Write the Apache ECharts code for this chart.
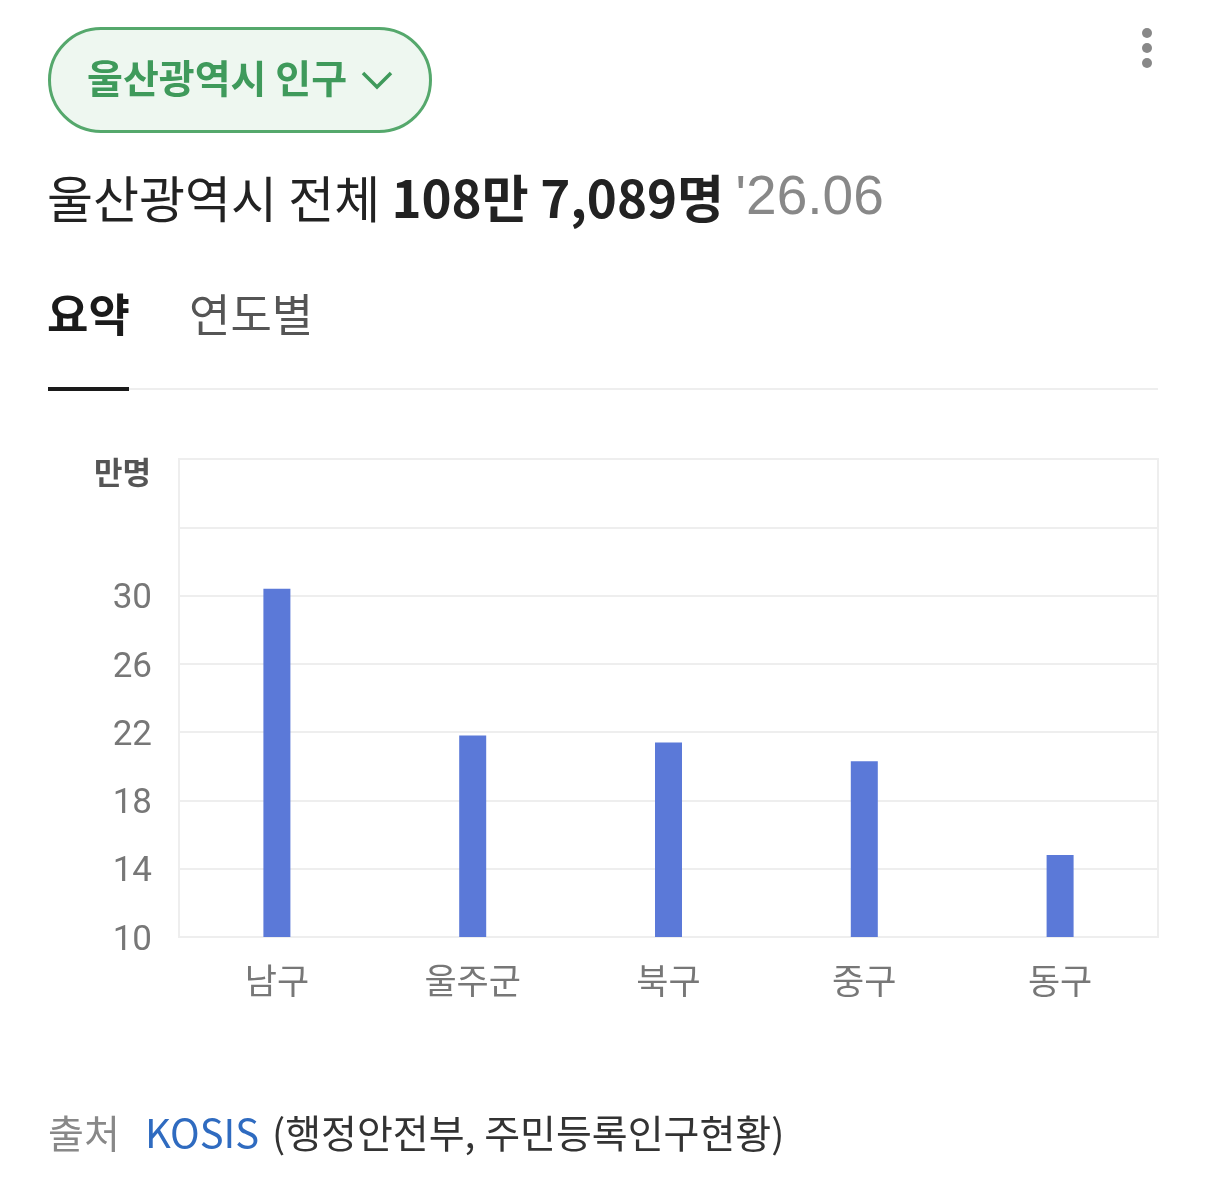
<!DOCTYPE html>
<html><head><meta charset="utf-8">
<script src="https://cdn.jsdelivr.net/npm/echarts@6/dist/echarts.min.js"></script>
<style>html,body{margin:0;padding:0;background:#fff}#c{width:1206px;height:1187px}</style>
</head><body><div id="c"></div>
<script>
const categories = ['남구', '울주군', '북구', '중구', '동구'];
const population = [30.4, 21.8, 21.4, 20.3, 14.8];
const yMin = 10, yMax = 38, yStep = 4, yLabelMax = 30;

const FONT = '"Noto Sans CJK KR", "Noto Sans", sans-serif';
const chart = echarts.init(document.getElementById('c'), null, {renderer: 'canvas'});
chart.setOption({
  backgroundColor: '#fff',
  animation: false,
  textStyle: {fontFamily: FONT},
  grid: {left: 179, right: 48, top: 459, bottom: 250, show: true, borderColor: '#eeeeee', borderWidth: 2},
  xAxis: {
    type: 'category', data: categories,
    axisLine: {show: false}, axisTick: {show: false},
    axisLabel: {color: '#777', fontSize: 35, margin: 26, fontFamily: FONT}
  },
  yAxis: {
    type: 'value', min: yMin, max: yMax, interval: yStep,
    axisLine: {show: false}, axisTick: {show: false},
    splitLine: {lineStyle: {color: '#eeeeee', width: 2}},
    axisLabel: {color: '#777', fontSize: 35, margin: 27, fontFamily: 'Roboto, "Noto Sans", sans-serif',
      formatter: v => (v <= yLabelMax ? '{v|' + v + '}' : ''),
      rich: {v: {color: '#777', fontSize: 35, fontFamily: 'Roboto, "Noto Sans", sans-serif', padding: [8, 0, 0, 0]}}}
  },
  series: [{
    type: 'bar', data: population, barWidth: 27,
    itemStyle: {color: '#5b79d8'}
  }],
  graphic: [
    {type: 'rect', shape: {x: 49.5, y: 28.5, width: 381, height: 103, r: 51.5},
     style: {fill: '#eef7f0', stroke: '#55a86c', lineWidth: 3}},
    {type: 'text', x: 87, y: 78, style: {text: '울산광역시 인구', fill: '#3f9a5b', font: 'bold 39px ' + FONT, textVerticalAlign: 'middle'}},
    {type: 'polyline', shape: {points: [[363, 73], [377, 87], [391, 73]]},
     style: {stroke: '#3f9a5b', lineWidth: 3.5, fill: null}},
    {type: 'circle', shape: {cx: 1147, cy: 33, r: 5}, style: {fill: '#888'}},
    {type: 'circle', shape: {cx: 1147, cy: 48, r: 5}, style: {fill: '#888'}},
    {type: 'circle', shape: {cx: 1147, cy: 63, r: 5}, style: {fill: '#888'}},
    {type: 'text', x: 47, y: 199, style: {
      text: '{a|울산광역시 전체 }{b|108만 7,089명 }{c|\'26.06}',
      textVerticalAlign: 'middle',
      rich: {
        a: {fill: '#222', font: '50px ' + FONT},
        b: {fill: '#222', font: 'bold 51px ' + FONT},
        c: {fill: '#888', font: '55px "Liberation Sans", Roboto, sans-serif'}
      }}},
    {type: 'text', x: 47, y: 315, style: {text: '요약', fill: '#1a1a1a', font: 'bold 45px ' + FONT, textVerticalAlign: 'middle'}},
    {type: 'text', x: 189, y: 315, style: {text: '연도별', fill: '#555', font: '45px ' + FONT, textVerticalAlign: 'middle'}},
    {type: 'rect', shape: {x: 48, y: 388, width: 1110, height: 2}, style: {fill: '#eeeeee'}},
    {type: 'rect', shape: {x: 48, y: 387, width: 81, height: 4}, style: {fill: '#1a1a1a'}},
    {type: 'text', x: 151, y: 472, style: {text: '만명', fill: '#555', font: 'bold 31px ' + FONT, textAlign: 'right', textVerticalAlign: 'middle'}},
    {type: 'text', x: 48, y: 1133, style: {text: '출처', fill: '#888', font: '39px ' + FONT, textVerticalAlign: 'middle'}},
    {type: 'text', x: 145, y: 1133, style: {text: 'KOSIS', fill: '#2f6bc0', font: '40px ' + FONT, textVerticalAlign: 'middle'}},
    {type: 'text', x: 272, y: 1133, style: {text: '(행정안전부, 주민등록인구현황)', fill: '#333', font: '39px ' + FONT, textVerticalAlign: 'middle'}}
  ]
});
</script></body></html>
